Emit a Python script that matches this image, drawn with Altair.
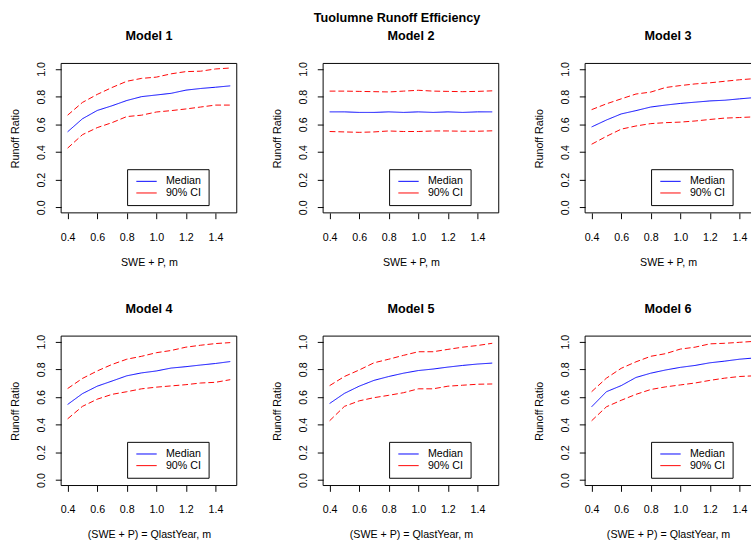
import altair as alt
import pandas as pd

x_vals = [0.4, 0.5, 0.6, 0.7, 0.8, 0.9, 1.0, 1.1, 1.2, 1.3, 1.4, 1.5]

m1_med = [0.546, 0.640, 0.700, 0.734, 0.772, 0.800, 0.812, 0.824, 0.847, 0.859, 0.868, 0.878]
m1_hi = [0.666, 0.758, 0.816, 0.866, 0.911, 0.932, 0.941, 0.965, 0.981, 0.984, 1.000, 1.007]
m1_lo = [0.428, 0.525, 0.576, 0.612, 0.656, 0.666, 0.689, 0.699, 0.711, 0.725, 0.739, 0.739]

m2_med = [0.690, 0.690, 0.686, 0.686, 0.690, 0.686, 0.690, 0.686, 0.690, 0.686, 0.690, 0.690]
m2_hi = [0.840, 0.840, 0.838, 0.836, 0.834, 0.840, 0.846, 0.840, 0.838, 0.836, 0.838, 0.842]
m2_lo = [0.548, 0.545, 0.542, 0.545, 0.552, 0.548, 0.548, 0.552, 0.552, 0.550, 0.550, 0.553]

m3_med = [0.581, 0.631, 0.675, 0.699, 0.725, 0.739, 0.751, 0.760, 0.769, 0.774, 0.784, 0.793]
m3_hi = [0.706, 0.748, 0.784, 0.819, 0.833, 0.866, 0.880, 0.892, 0.900, 0.911, 0.922, 0.930]
m3_lo = [0.456, 0.513, 0.565, 0.588, 0.605, 0.612, 0.616, 0.624, 0.635, 0.645, 0.649, 0.654]

m4_med = [0.546, 0.624, 0.678, 0.715, 0.753, 0.774, 0.788, 0.809, 0.819, 0.831, 0.842, 0.856]
m4_hi = [0.661, 0.734, 0.788, 0.835, 0.873, 0.894, 0.920, 0.936, 0.960, 0.974, 0.986, 0.993]
m4_lo = [0.442, 0.532, 0.584, 0.619, 0.638, 0.659, 0.671, 0.680, 0.689, 0.701, 0.706, 0.725]

m5_med = [0.553, 0.626, 0.678, 0.720, 0.748, 0.772, 0.791, 0.802, 0.816, 0.828, 0.838, 0.845]
m5_hi = [0.682, 0.748, 0.795, 0.847, 0.873, 0.901, 0.927, 0.927, 0.944, 0.960, 0.972, 0.988]
m5_lo = [0.428, 0.532, 0.572, 0.595, 0.612, 0.631, 0.659, 0.659, 0.678, 0.685, 0.692, 0.694]

m6_med = [0.529, 0.638, 0.682, 0.741, 0.772, 0.795, 0.814, 0.828, 0.847, 0.859, 0.873, 0.882]
m6_hi = [0.638, 0.736, 0.807, 0.854, 0.894, 0.913, 0.946, 0.960, 0.984, 0.988, 0.995, 1.002]
m6_lo = [0.428, 0.529, 0.576, 0.619, 0.654, 0.673, 0.687, 0.701, 0.720, 0.736, 0.748, 0.753]

x_ticks = [0.4, 0.6, 0.8, 1.0, 1.2, 1.4]
y_ticks = [0.0, 0.2, 0.4, 0.6, 0.8, 1.0]
legend_labels = ["Median", "90% CI"]
main_title = "Tuolumne Runoff Efficiency"
xtitle_top = "SWE + P, m"
xtitle_bottom = "(SWE + P) = QlastYear, m"
ytitle = "Runoff Ratio"

FONT = "Liberation Sans, Arial, sans-serif"
PANEL_W = 181
PANEL_H = 154
CLIP_W = 171
X0 = 0.356
Y0, Y1 = -0.04, 1.04


def panel(name, xtitle, med, lo, hi, clipped=False):
    rows = []
    for xv, a, b, c in zip(x_vals, med, lo, hi):
        rows.append({"x": xv, "value": a, "series": "Median", "line": "median", "style": "solid"})
        rows.append({"x": xv, "value": b, "series": "90% CI", "line": "lower", "style": "dashed"})
        rows.append({"x": xv, "value": c, "series": "90% CI", "line": "upper", "style": "dashed"})
    df = pd.DataFrame(rows)
    width = CLIP_W if clipped else PANEL_W
    xmax = X0 + width * (1.188 / PANEL_W)
    xscale = alt.Scale(domain=[X0, xmax], nice=False, zero=False)
    yscale = alt.Scale(domain=[Y0, Y1], nice=False, zero=False)
    xaxis = alt.Axis(values=x_ticks, format=".1f", grid=False, domain=False,
                     tickColor="black", tickSize=6,
                     labelFontSize=11, labelColor="black", labelPadding=13,
                     title=xtitle, titleFontSize=11, titleFontWeight="normal",
                     titleColor="black", titlePadding=15)
    yaxis = alt.Axis(values=y_ticks, format=".1f", grid=False, domain=False,
                     tickColor="black", tickSize=6,
                     labelFontSize=11, labelColor="black", labelAngle=270,
                     labelAlign="center", labelBaseline="bottom", labelPadding=9,
                     title=ytitle, titleFontSize=11, titleFontWeight="normal",
                     titleColor="black", titlePadding=16)
    lines = alt.Chart(df).mark_line(strokeWidth=1, clip=True).encode(
        x=alt.X("x:Q", scale=xscale, axis=xaxis),
        y=alt.Y("value:Q", scale=yscale, axis=yaxis),
        color=alt.Color("series:N",
                        scale=alt.Scale(domain=legend_labels, range=["#0000FF", "#FF0000"]),
                        legend=alt.Legend(orient="none", legendX=68, legendY=109, title=None,
                                          strokeColor="black", fillColor="white", padding=7,
                                          symbolType="stroke", symbolSize=441, symbolOffset=2,
                                          symbolStrokeWidth=1, labelFontSize=11,
                                          labelColor="black", labelOffset=9, rowPadding=0,
                                          clipHeight=11)),
        strokeDash=alt.StrokeDash("style:N",
                                  scale=alt.Scale(domain=["solid", "dashed"], range=[[1, 0], [6, 3]]),
                                  legend=None),
        detail="line:N",
    )

    def fx(v):
        return alt.X(datum=v, type="quantitative", scale=xscale, axis=xaxis)

    def fy(v):
        return alt.Y(datum=v, type="quantitative", scale=yscale, axis=yaxis)

    one = pd.DataFrame({"edge": ["frame"]})
    frame = [
        alt.Chart(one).mark_rule(color="black", strokeWidth=1).encode(
            x=fx(X0), x2=alt.datum(xmax), y=fy(Y1)),
        alt.Chart(one).mark_rule(color="black", strokeWidth=1).encode(
            x=fx(X0), x2=alt.datum(xmax), y=fy(Y0)),
        alt.Chart(one).mark_rule(color="black", strokeWidth=1).encode(
            x=fx(X0), y=fy(Y0), y2=alt.datum(Y1)),
    ]
    if not clipped:
        frame.append(alt.Chart(one).mark_rule(color="black", strokeWidth=1).encode(
            x=fx(xmax), y=fy(Y0), y2=alt.datum(Y1)))
    title = alt.Title(name, fontSize=13, fontWeight="bold", color="black", offset=19)
    return alt.layer(lines, *frame).properties(width=width, height=PANEL_H, title=title)


def row(*charts):
    return alt.hconcat(*charts, spacing=34).resolve_scale(
        x="independent", y="independent", color="independent", strokeDash="independent"
    ).resolve_legend(color="independent")


row1 = row(
    panel("Model 1", xtitle_top, m1_med, m1_lo, m1_hi),
    panel("Model 2", xtitle_top, m2_med, m2_lo, m2_hi),
    panel("Model 3", xtitle_top, m3_med, m3_lo, m3_hi, clipped=True),
)
row2 = row(
    panel("Model 4", xtitle_bottom, m4_med, m4_lo, m4_hi),
    panel("Model 5", xtitle_bottom, m5_med, m5_lo, m5_hi),
    panel("Model 6", xtitle_bottom, m6_med, m6_lo, m6_hi, clipped=True),
)

chart = alt.vconcat(row1, row2, spacing=37).resolve_scale(
    x="independent", y="independent", color="independent", strokeDash="independent"
).resolve_legend(color="independent").properties(
    title=alt.Title(main_title, fontSize=13, fontWeight="bold", color="black",
                    anchor="middle", offset=6, dx=17),
    padding={"left": 9, "top": 4, "right": 0, "bottom": 0},
).configure(font=FONT).configure_view(stroke=None)

chart.save("out.html", embed_options={"renderer": "svg", "actions": False})
